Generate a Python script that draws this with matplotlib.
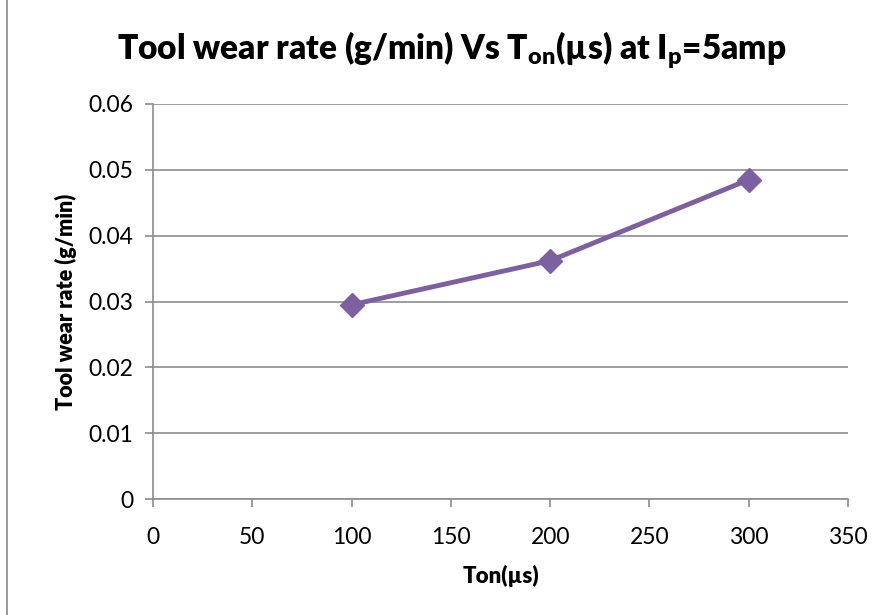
import matplotlib.pyplot as plt
import matplotlib.patches as patches

ton = [100, 200, 300]
wear_rate = [0.0295, 0.0362, 0.0485]
x_ticks = [0, 50, 100, 150, 200, 250, 300, 350]
y_ticks = [0, 0.01, 0.02, 0.03, 0.04, 0.05, 0.06]
y_labels = ['0', '0.01', '0.02', '0.03', '0.04', '0.05', '0.06']

plt.rcParams['font.family'] = ['Lato', 'DejaVu Sans']
plt.rcParams['mathtext.fontset'] = 'custom'
plt.rcParams['mathtext.rm'] = 'Lato:heavy'
plt.rcParams['mathtext.it'] = 'Lato:heavy'

fig = plt.figure(figsize=(8.83, 6.15), dpi=100)
ax = fig.add_axes([0.1733, 0.1886, 0.7871, 0.6423])

# chart border
fig.patches.append(patches.Rectangle((0.008, -0.01), 1.0, 1.02, transform=fig.transFigure,
                                     fill=False, edgecolor='#888888', linewidth=1.2))

ax.plot(ton, wear_rate, color='#7D60A0', linewidth=3.5, marker='D', markersize=12.5,
        zorder=3)

ax.set_xlim(0, 350)
ax.set_ylim(0, 0.06)
ax.set_xticks(x_ticks)
ax.set_yticks(y_ticks)
ax.set_yticklabels(y_labels)
ax.grid(axis='y', color='#8C8C8C', linewidth=1.2)
ax.set_axisbelow(True)
for s in ['top', 'right']:
    ax.spines[s].set_visible(False)
for s in ['left', 'bottom']:
    ax.spines[s].set_color('#8C8C8C')
    ax.spines[s].set_linewidth(1.2)
ax.tick_params(axis='both', direction='out', length=6, color='#8C8C8C', width=1.2,
               labelsize=16.5)
ax.tick_params(axis='x', pad=14)
ax.tick_params(axis='y', pad=8)

ax.set_xlabel('Ton(µs)', fontsize=16, fontweight='heavy', labelpad=12)
ax.set_ylabel('Tool wear rate (g/min)', fontsize=15.5, fontweight='heavy', labelpad=8)
fig.text(0.512, 0.918, r'Tool wear rate (g/min) Vs T$_{\mathrm{on}}$(µs) at I$_{\mathrm{p}}$=5amp',
         ha='center', va='center', fontsize=24, fontweight='heavy')

plt.savefig('out.png', dpi=100)
